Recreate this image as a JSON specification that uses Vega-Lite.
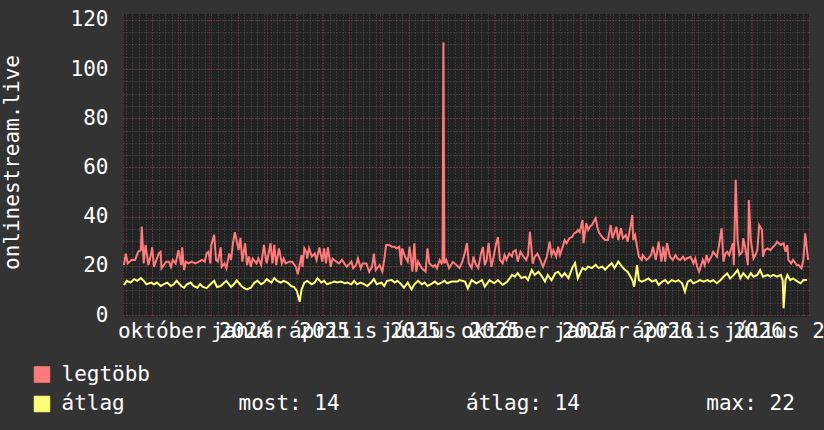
{
  "$schema": "https://vega.github.io/schema/vega-lite/v6.json",
  "width": 686,
  "height": 303,
  "autosize": {"type": "none"},
  "padding": {"left": 123, "top": 14, "right": 15, "bottom": 113},
  "background": "#333333",
  "config": {
    "view": {"fill": "#222222", "stroke": null},
    "font": "DejaVu Sans Mono",
    "axis": {"labelFont": "DejaVu Sans Mono", "titleFont": "DejaVu Sans Mono", "labelColor": "#ffffff", "titleColor": "#ffffff", "labelFontSize": 21, "titleFontSize": 21, "titleFontWeight": "normal", "tickSize": 0},
    "legend": {"orient": "none", "legendX": -91.5, "legendY": 350, "direction": "vertical", "symbolType": "square", "symbolSize": 240, "symbolStrokeColor": "#000000", "symbolStrokeWidth": 1, "labelFont": "DejaVu Sans Mono", "labelFontSize": 21, "labelColor": "#ffffff", "labelOffset": 9, "rowPadding": 7.5, "labelLimit": 1000, "padding": 0}
  },
  "data": {"values": [
{"date":"2024-08-02","series":"legtöbb","value":20.3},{"date":"2024-08-04","series":"legtöbb","value":25},{"date":"2024-08-06","series":"legtöbb","value":21},{"date":"2024-08-10","series":"legtöbb","value":22.4},{"date":"2024-08-14","series":"legtöbb","value":22.4},{"date":"2024-08-17","series":"legtöbb","value":25.7},{"date":"2024-08-20","series":"legtöbb","value":26.4},{"date":"2024-08-21","series":"legtöbb","value":36},{"date":"2024-08-23","series":"legtöbb","value":21},{"date":"2024-08-25","series":"legtöbb","value":28.5},{"date":"2024-08-28","series":"legtöbb","value":20.3},{"date":"2024-08-31","series":"legtöbb","value":25},
{"date":"2024-09-01","series":"legtöbb","value":27.5},{"date":"2024-09-03","series":"legtöbb","value":19.6},{"date":"2024-09-05","series":"legtöbb","value":21.7},{"date":"2024-09-08","series":"legtöbb","value":25},{"date":"2024-09-10","series":"legtöbb","value":25.7},{"date":"2024-09-11","series":"legtöbb","value":19},{"date":"2024-09-16","series":"legtöbb","value":21.7},{"date":"2024-09-19","series":"legtöbb","value":21.7},{"date":"2024-09-21","series":"legtöbb","value":19.6},{"date":"2024-09-23","series":"legtöbb","value":22.4},{"date":"2024-09-26","series":"legtöbb","value":21},{"date":"2024-09-29","series":"legtöbb","value":26.4},
{"date":"2024-10-02","series":"legtöbb","value":20.3},{"date":"2024-10-03","series":"legtöbb","value":27.5},{"date":"2024-10-05","series":"legtöbb","value":18.3},{"date":"2024-10-07","series":"legtöbb","value":21.7},{"date":"2024-10-10","series":"legtöbb","value":21},{"date":"2024-10-13","series":"legtöbb","value":21.7},{"date":"2024-10-17","series":"legtöbb","value":21},{"date":"2024-10-21","series":"legtöbb","value":21.7},{"date":"2024-10-24","series":"legtöbb","value":22.4},{"date":"2024-10-27","series":"legtöbb","value":21.7},{"date":"2024-10-29","series":"legtöbb","value":25},{"date":"2024-10-31","series":"legtöbb","value":25.7},
{"date":"2024-11-02","series":"legtöbb","value":21},{"date":"2024-11-03","series":"legtöbb","value":28.5},{"date":"2024-11-06","series":"legtöbb","value":32.6},{"date":"2024-11-08","series":"legtöbb","value":22.4},{"date":"2024-11-10","series":"legtöbb","value":21.7},{"date":"2024-11-13","series":"legtöbb","value":27.5},{"date":"2024-11-14","series":"legtöbb","value":19.6},{"date":"2024-11-17","series":"legtöbb","value":21},{"date":"2024-11-19","series":"legtöbb","value":19},{"date":"2024-11-22","series":"legtöbb","value":25},{"date":"2024-11-24","series":"legtöbb","value":22.4},{"date":"2024-11-26","series":"legtöbb","value":29.2},{"date":"2024-11-28","series":"legtöbb","value":33.7},{"date":"2024-11-29","series":"legtöbb","value":32},
{"date":"2024-12-02","series":"legtöbb","value":26.4},{"date":"2024-12-04","series":"legtöbb","value":31.4},{"date":"2024-12-06","series":"legtöbb","value":21.7},{"date":"2024-12-07","series":"legtöbb","value":24.4},{"date":"2024-12-09","series":"legtöbb","value":29.2},{"date":"2024-12-11","series":"legtöbb","value":20.3},{"date":"2024-12-13","series":"legtöbb","value":23.8},{"date":"2024-12-15","series":"legtöbb","value":19.6},{"date":"2024-12-17","series":"legtöbb","value":23},{"date":"2024-12-21","series":"legtöbb","value":21},{"date":"2024-12-23","series":"legtöbb","value":23},{"date":"2024-12-26","series":"legtöbb","value":20.3},{"date":"2024-12-29","series":"legtöbb","value":28.5},{"date":"2024-12-31","series":"legtöbb","value":23},
{"date":"2025-01-01","series":"legtöbb","value":21},{"date":"2025-01-05","series":"legtöbb","value":29.2},{"date":"2025-01-07","series":"legtöbb","value":21},{"date":"2025-01-09","series":"legtöbb","value":28.5},{"date":"2025-01-11","series":"legtöbb","value":20.3},{"date":"2025-01-14","series":"legtöbb","value":27.1},{"date":"2025-01-17","series":"legtöbb","value":21},{"date":"2025-01-19","series":"legtöbb","value":23},{"date":"2025-01-21","series":"legtöbb","value":21},{"date":"2025-01-25","series":"legtöbb","value":21.7},{"date":"2025-01-28","series":"legtöbb","value":21.7},
{"date":"2025-02-01","series":"legtöbb","value":19.6},{"date":"2025-02-03","series":"legtöbb","value":16.6},{"date":"2025-02-07","series":"legtöbb","value":24.4},{"date":"2025-02-08","series":"legtöbb","value":19.6},{"date":"2025-02-10","series":"legtöbb","value":27.1},{"date":"2025-02-12","series":"legtöbb","value":25.7},{"date":"2025-02-13","series":"legtöbb","value":23},{"date":"2025-02-15","series":"legtöbb","value":27.1},{"date":"2025-02-18","series":"legtöbb","value":23.8},{"date":"2025-02-21","series":"legtöbb","value":25},{"date":"2025-02-23","series":"legtöbb","value":22.4},{"date":"2025-02-26","series":"legtöbb","value":27.5},
{"date":"2025-03-01","series":"legtöbb","value":21.7},{"date":"2025-03-03","series":"legtöbb","value":27.1},{"date":"2025-03-05","series":"legtöbb","value":21},{"date":"2025-03-07","series":"legtöbb","value":27.5},{"date":"2025-03-10","series":"legtöbb","value":19.6},{"date":"2025-03-12","series":"legtöbb","value":23},{"date":"2025-03-16","series":"legtöbb","value":21.7},{"date":"2025-03-19","series":"legtöbb","value":21},{"date":"2025-03-22","series":"legtöbb","value":22.4},{"date":"2025-03-27","series":"legtöbb","value":19.6},{"date":"2025-03-29","series":"legtöbb","value":20.3},
{"date":"2025-04-01","series":"legtöbb","value":21.7},{"date":"2025-04-03","series":"legtöbb","value":19},{"date":"2025-04-06","series":"legtöbb","value":20.3},{"date":"2025-04-08","series":"legtöbb","value":23},{"date":"2025-04-11","series":"legtöbb","value":19},{"date":"2025-04-13","series":"legtöbb","value":21},{"date":"2025-04-17","series":"legtöbb","value":21},{"date":"2025-04-20","series":"legtöbb","value":17.6},{"date":"2025-04-23","series":"legtöbb","value":19.6},{"date":"2025-04-25","series":"legtöbb","value":25},{"date":"2025-04-27","series":"legtöbb","value":18.3},
{"date":"2025-05-01","series":"legtöbb","value":20.3},{"date":"2025-05-04","series":"legtöbb","value":17.6},{"date":"2025-05-06","series":"legtöbb","value":22.4},{"date":"2025-05-08","series":"legtöbb","value":28.5},{"date":"2025-05-11","series":"legtöbb","value":28.5},{"date":"2025-05-14","series":"legtöbb","value":27.8},{"date":"2025-05-17","series":"legtöbb","value":27.8},{"date":"2025-05-19","series":"legtöbb","value":27.1},{"date":"2025-05-22","series":"legtöbb","value":27.8},{"date":"2025-05-24","series":"legtöbb","value":20.3},{"date":"2025-05-25","series":"legtöbb","value":27.1},{"date":"2025-05-28","series":"legtöbb","value":23.8},{"date":"2025-05-31","series":"legtöbb","value":21.7},
{"date":"2025-06-02","series":"legtöbb","value":27.8},{"date":"2025-06-05","series":"legtöbb","value":17.6},{"date":"2025-06-07","series":"legtöbb","value":29.2},{"date":"2025-06-09","series":"legtöbb","value":17.6},{"date":"2025-06-11","series":"legtöbb","value":21.7},{"date":"2025-06-15","series":"legtöbb","value":19},{"date":"2025-06-17","series":"legtöbb","value":18.3},{"date":"2025-06-19","series":"legtöbb","value":17.6},{"date":"2025-06-21","series":"legtöbb","value":27.1},{"date":"2025-06-23","series":"legtöbb","value":21},{"date":"2025-06-27","series":"legtöbb","value":19.6},{"date":"2025-06-29","series":"legtöbb","value":20.3},
{"date":"2025-07-01","series":"legtöbb","value":19},{"date":"2025-07-04","series":"legtöbb","value":22.4},{"date":"2025-07-06","series":"legtöbb","value":21},{"date":"2025-07-07","series":"legtöbb","value":21.7},{"date":"2025-07-08","series":"legtöbb","value":110.8},{"date":"2025-07-09","series":"legtöbb","value":21},{"date":"2025-07-11","series":"legtöbb","value":22.4},{"date":"2025-07-14","series":"legtöbb","value":19.1},{"date":"2025-07-18","series":"legtöbb","value":21.6},{"date":"2025-07-22","series":"legtöbb","value":20.3},{"date":"2025-07-25","series":"legtöbb","value":19.1},{"date":"2025-07-28","series":"legtöbb","value":21.6},{"date":"2025-07-31","series":"legtöbb","value":25.6},
{"date":"2025-08-02","series":"legtöbb","value":29.3},{"date":"2025-08-04","series":"legtöbb","value":21},{"date":"2025-08-07","series":"legtöbb","value":19.1},{"date":"2025-08-09","series":"legtöbb","value":23.8},{"date":"2025-08-11","series":"legtöbb","value":21},{"date":"2025-08-14","series":"legtöbb","value":19.1},{"date":"2025-08-17","series":"legtöbb","value":25},{"date":"2025-08-19","series":"legtöbb","value":27.7},{"date":"2025-08-21","series":"legtöbb","value":20.3},{"date":"2025-08-23","series":"legtöbb","value":22.4},{"date":"2025-08-25","series":"legtöbb","value":29.3},{"date":"2025-08-28","series":"legtöbb","value":19.6},{"date":"2025-08-29","series":"legtöbb","value":21},
{"date":"2025-09-02","series":"legtöbb","value":29},{"date":"2025-09-04","series":"legtöbb","value":31.7},{"date":"2025-09-06","series":"legtöbb","value":22.4},{"date":"2025-09-09","series":"legtöbb","value":21},{"date":"2025-09-11","series":"legtöbb","value":24.4},{"date":"2025-09-13","series":"legtöbb","value":22.4},{"date":"2025-09-16","series":"legtöbb","value":25},{"date":"2025-09-19","series":"legtöbb","value":23.8},{"date":"2025-09-20","series":"legtöbb","value":25.7},{"date":"2025-09-23","series":"legtöbb","value":26.4},{"date":"2025-09-25","series":"legtöbb","value":21.7},{"date":"2025-09-28","series":"legtöbb","value":25.7},{"date":"2025-09-30","series":"legtöbb","value":24.4},
{"date":"2025-10-04","series":"legtöbb","value":22.4},{"date":"2025-10-06","series":"legtöbb","value":24.4},{"date":"2025-10-08","series":"legtöbb","value":33.8},{"date":"2025-10-10","series":"legtöbb","value":25.7},{"date":"2025-10-11","series":"legtöbb","value":20.9},{"date":"2025-10-13","series":"legtöbb","value":23.6},{"date":"2025-10-16","series":"legtöbb","value":25},{"date":"2025-10-19","series":"legtöbb","value":22.4},{"date":"2025-10-22","series":"legtöbb","value":19.6},{"date":"2025-10-24","series":"legtöbb","value":21.7},{"date":"2025-10-26","series":"legtöbb","value":23.7},{"date":"2025-10-29","series":"legtöbb","value":29.8},{"date":"2025-10-31","series":"legtöbb","value":24.4},
{"date":"2025-11-02","series":"legtöbb","value":26.4},{"date":"2025-11-05","series":"legtöbb","value":23.7},{"date":"2025-11-07","series":"legtöbb","value":27.8},{"date":"2025-11-09","series":"legtöbb","value":24.4},{"date":"2025-11-12","series":"legtöbb","value":27.8},{"date":"2025-11-14","series":"legtöbb","value":30.5},{"date":"2025-11-16","series":"legtöbb","value":29.2},{"date":"2025-11-19","series":"legtöbb","value":31.2},{"date":"2025-11-22","series":"legtöbb","value":31.8},{"date":"2025-11-24","series":"legtöbb","value":33.2},{"date":"2025-11-27","series":"legtöbb","value":33.8},{"date":"2025-11-28","series":"legtöbb","value":34.6},{"date":"2025-11-30","series":"legtöbb","value":33.8},
{"date":"2025-12-03","series":"legtöbb","value":38.6},{"date":"2025-12-04","series":"legtöbb","value":29.2},{"date":"2025-12-07","series":"legtöbb","value":37.3},{"date":"2025-12-09","series":"legtöbb","value":34.6},{"date":"2025-12-11","series":"legtöbb","value":36},{"date":"2025-12-13","series":"legtöbb","value":36.6},{"date":"2025-12-15","series":"legtöbb","value":38},{"date":"2025-12-17","series":"legtöbb","value":39.4},{"date":"2025-12-19","series":"legtöbb","value":35.3},{"date":"2025-12-21","series":"legtöbb","value":33.2},{"date":"2025-12-25","series":"legtöbb","value":31.2},{"date":"2025-12-27","series":"legtöbb","value":30.5},{"date":"2025-12-30","series":"legtöbb","value":30.5},
{"date":"2026-01-02","series":"legtöbb","value":36.6},{"date":"2026-01-04","series":"legtöbb","value":31.2},{"date":"2026-01-08","series":"legtöbb","value":35.9},{"date":"2026-01-10","series":"legtöbb","value":30.5},{"date":"2026-01-13","series":"legtöbb","value":35.3},{"date":"2026-01-15","series":"legtöbb","value":31.2},{"date":"2026-01-18","series":"legtöbb","value":32.5},{"date":"2026-01-20","series":"legtöbb","value":29.8},{"date":"2026-01-23","series":"legtöbb","value":35.9},{"date":"2026-01-25","series":"legtöbb","value":40.7},{"date":"2026-01-26","series":"legtöbb","value":30.5},{"date":"2026-01-28","series":"legtöbb","value":32.5},{"date":"2026-01-30","series":"legtöbb","value":27.8},
{"date":"2026-02-01","series":"legtöbb","value":23.7},{"date":"2026-02-04","series":"legtöbb","value":22.4},{"date":"2026-02-05","series":"legtöbb","value":24.4},{"date":"2026-02-09","series":"legtöbb","value":22.4},{"date":"2026-02-11","series":"legtöbb","value":23},{"date":"2026-02-14","series":"legtöbb","value":24.4},{"date":"2026-02-16","series":"legtöbb","value":27.8},{"date":"2026-02-19","series":"legtöbb","value":22.4},{"date":"2026-02-22","series":"legtöbb","value":29.8},{"date":"2026-02-25","series":"legtöbb","value":21.7},{"date":"2026-02-27","series":"legtöbb","value":27.8},
{"date":"2026-03-01","series":"legtöbb","value":21.7},{"date":"2026-03-03","series":"legtöbb","value":29.2},{"date":"2026-03-06","series":"legtöbb","value":23.7},{"date":"2026-03-09","series":"legtöbb","value":22.4},{"date":"2026-03-12","series":"legtöbb","value":24.4},{"date":"2026-03-14","series":"legtöbb","value":23},{"date":"2026-03-17","series":"legtöbb","value":22.4},{"date":"2026-03-20","series":"legtöbb","value":23.7},{"date":"2026-03-22","series":"legtöbb","value":22.4},{"date":"2026-03-24","series":"legtöbb","value":23},{"date":"2026-03-28","series":"legtöbb","value":23.7},{"date":"2026-03-31","series":"legtöbb","value":21},
{"date":"2026-04-02","series":"legtöbb","value":23},{"date":"2026-04-04","series":"legtöbb","value":19.6},{"date":"2026-04-06","series":"legtöbb","value":17.6},{"date":"2026-04-10","series":"legtöbb","value":22.4},{"date":"2026-04-12","series":"legtöbb","value":20.3},{"date":"2026-04-14","series":"legtöbb","value":24.4},{"date":"2026-04-16","series":"legtöbb","value":21.7},{"date":"2026-04-19","series":"legtöbb","value":23.7},{"date":"2026-04-21","series":"legtöbb","value":25.7},{"date":"2026-04-25","series":"legtöbb","value":23.7},{"date":"2026-04-27","series":"legtöbb","value":27.8},{"date":"2026-04-30","series":"legtöbb","value":35.3},
{"date":"2026-05-02","series":"legtöbb","value":21.7},{"date":"2026-05-04","series":"legtöbb","value":25},{"date":"2026-05-06","series":"legtöbb","value":25.7},{"date":"2026-05-08","series":"legtöbb","value":24.4},{"date":"2026-05-12","series":"legtöbb","value":29.2},{"date":"2026-05-13","series":"legtöbb","value":20.3},{"date":"2026-05-15","series":"legtöbb","value":55},{"date":"2026-05-17","series":"legtöbb","value":30.5},{"date":"2026-05-19","series":"legtöbb","value":24.4},{"date":"2026-05-22","series":"legtöbb","value":25.7},{"date":"2026-05-23","series":"legtöbb","value":31.2},{"date":"2026-05-25","series":"legtöbb","value":27.8},{"date":"2026-05-28","series":"legtöbb","value":20.3},{"date":"2026-05-29","series":"legtöbb","value":46.8},{"date":"2026-05-31","series":"legtöbb","value":30.5},
{"date":"2026-06-03","series":"legtöbb","value":23},{"date":"2026-06-05","series":"legtöbb","value":24.4},{"date":"2026-06-07","series":"legtöbb","value":26.4},{"date":"2026-06-09","series":"legtöbb","value":36.6},{"date":"2026-06-12","series":"legtöbb","value":34.6},{"date":"2026-06-13","series":"legtöbb","value":23.7},{"date":"2026-06-15","series":"legtöbb","value":26.4},{"date":"2026-06-18","series":"legtöbb","value":27.1},{"date":"2026-06-21","series":"legtöbb","value":26.4},{"date":"2026-06-24","series":"legtöbb","value":27.8},{"date":"2026-06-26","series":"legtöbb","value":28.5},{"date":"2026-06-28","series":"legtöbb","value":29.8},
{"date":"2026-07-02","series":"legtöbb","value":28.5},{"date":"2026-07-05","series":"legtöbb","value":29.2},{"date":"2026-07-07","series":"legtöbb","value":25.7},{"date":"2026-07-09","series":"legtöbb","value":28.5},{"date":"2026-07-10","series":"legtöbb","value":22.4},{"date":"2026-07-13","series":"legtöbb","value":21},{"date":"2026-07-15","series":"legtöbb","value":22.4},{"date":"2026-07-19","series":"legtöbb","value":20.3},{"date":"2026-07-21","series":"legtöbb","value":20.3},{"date":"2026-07-24","series":"legtöbb","value":19},{"date":"2026-07-26","series":"legtöbb","value":22.4},{"date":"2026-07-28","series":"legtöbb","value":33.2},{"date":"2026-07-31","series":"legtöbb","value":22.4},
{"date":"2024-08-02","series":"átlag","value":12.2},{"date":"2024-08-05","series":"átlag","value":13.9},{"date":"2024-08-09","series":"átlag","value":13.2},{"date":"2024-08-13","series":"átlag","value":14.6},{"date":"2024-08-16","series":"átlag","value":13.9},{"date":"2024-08-20","series":"átlag","value":15},{"date":"2024-08-23","series":"átlag","value":13.9},{"date":"2024-08-26","series":"átlag","value":12.5},{"date":"2024-08-31","series":"átlag","value":13.2},
{"date":"2024-09-03","series":"átlag","value":12.5},{"date":"2024-09-06","series":"átlag","value":13.2},{"date":"2024-09-10","series":"átlag","value":11.8},{"date":"2024-09-13","series":"átlag","value":12.5},{"date":"2024-09-17","series":"átlag","value":13.2},{"date":"2024-09-21","series":"átlag","value":11.8},{"date":"2024-09-24","series":"átlag","value":12.5},{"date":"2024-09-27","series":"átlag","value":13.9},
{"date":"2024-10-02","series":"átlag","value":11.8},{"date":"2024-10-05","series":"átlag","value":11.1},{"date":"2024-10-08","series":"átlag","value":12.5},{"date":"2024-10-12","series":"átlag","value":13.2},{"date":"2024-10-15","series":"átlag","value":11.8},{"date":"2024-10-19","series":"átlag","value":11.1},{"date":"2024-10-22","series":"átlag","value":12.5},{"date":"2024-10-25","series":"átlag","value":11.4},{"date":"2024-10-29","series":"átlag","value":10.9},
{"date":"2024-11-02","series":"átlag","value":12.5},{"date":"2024-11-06","series":"átlag","value":13.9},{"date":"2024-11-09","series":"átlag","value":11.4},{"date":"2024-11-13","series":"átlag","value":11.8},{"date":"2024-11-16","series":"átlag","value":12.9},{"date":"2024-11-19","series":"átlag","value":13.9},{"date":"2024-11-24","series":"átlag","value":11.4},{"date":"2024-11-27","series":"átlag","value":12.5},{"date":"2024-11-30","series":"átlag","value":14.1},
{"date":"2024-12-05","series":"átlag","value":11.8},{"date":"2024-12-08","series":"átlag","value":10.9},{"date":"2024-12-11","series":"átlag","value":10.4},{"date":"2024-12-15","series":"átlag","value":11.1},{"date":"2024-12-19","series":"átlag","value":13.2},{"date":"2024-12-22","series":"átlag","value":13.9},{"date":"2024-12-26","series":"átlag","value":12.5},{"date":"2024-12-29","series":"átlag","value":13.2},
{"date":"2025-01-01","series":"átlag","value":14.6},{"date":"2025-01-06","series":"átlag","value":13.2},{"date":"2025-01-09","series":"átlag","value":15},{"date":"2025-01-12","series":"átlag","value":13.9},{"date":"2025-01-16","series":"átlag","value":13.2},{"date":"2025-01-19","series":"átlag","value":13.9},{"date":"2025-01-23","series":"átlag","value":13.2},{"date":"2025-01-27","series":"átlag","value":11.8},{"date":"2025-01-30","series":"átlag","value":11.4},
{"date":"2025-02-02","series":"átlag","value":9.8},{"date":"2025-02-05","series":"átlag","value":5.4},{"date":"2025-02-07","series":"átlag","value":10.4},{"date":"2025-02-10","series":"átlag","value":13.2},{"date":"2025-02-13","series":"átlag","value":13.9},{"date":"2025-02-18","series":"átlag","value":12.5},{"date":"2025-02-21","series":"átlag","value":13.2},{"date":"2025-02-24","series":"átlag","value":15},{"date":"2025-02-28","series":"átlag","value":13.2},
{"date":"2025-03-03","series":"átlag","value":13.9},{"date":"2025-03-06","series":"átlag","value":12.5},{"date":"2025-03-11","series":"átlag","value":13.2},{"date":"2025-03-14","series":"átlag","value":13.6},{"date":"2025-03-17","series":"átlag","value":13.2},{"date":"2025-03-21","series":"átlag","value":13.6},{"date":"2025-03-25","series":"átlag","value":12.9},{"date":"2025-03-28","series":"átlag","value":13.2},
{"date":"2025-04-01","series":"átlag","value":12.5},{"date":"2025-04-04","series":"átlag","value":13.9},{"date":"2025-04-07","series":"átlag","value":12.5},{"date":"2025-04-11","series":"átlag","value":13.2},{"date":"2025-04-15","series":"átlag","value":12.5},{"date":"2025-04-18","series":"átlag","value":11.8},{"date":"2025-04-22","series":"átlag","value":13.2},{"date":"2025-04-25","series":"átlag","value":14.6},{"date":"2025-04-28","series":"átlag","value":12.5},
{"date":"2025-05-03","series":"átlag","value":13.2},{"date":"2025-05-06","series":"átlag","value":11.8},{"date":"2025-05-09","series":"átlag","value":13.9},{"date":"2025-05-14","series":"átlag","value":14.2},{"date":"2025-05-17","series":"átlag","value":13.2},{"date":"2025-05-20","series":"átlag","value":13.9},{"date":"2025-05-24","series":"átlag","value":12.5},{"date":"2025-05-27","series":"átlag","value":11.1},{"date":"2025-05-31","series":"átlag","value":13.2},
{"date":"2025-06-04","series":"átlag","value":10.4},{"date":"2025-06-07","series":"átlag","value":12.5},{"date":"2025-06-11","series":"átlag","value":13.9},{"date":"2025-06-15","series":"átlag","value":12.5},{"date":"2025-06-18","series":"átlag","value":13.2},{"date":"2025-06-21","series":"átlag","value":11.8},{"date":"2025-06-26","series":"átlag","value":12.9},{"date":"2025-06-29","series":"átlag","value":13.6},
{"date":"2025-07-02","series":"átlag","value":12.5},{"date":"2025-07-06","series":"átlag","value":13.2},{"date":"2025-07-09","series":"átlag","value":13.9},{"date":"2025-07-12","series":"átlag","value":12.9},{"date":"2025-07-17","series":"átlag","value":13.6},{"date":"2025-07-23","series":"átlag","value":13.6},{"date":"2025-07-25","series":"átlag","value":14.2},{"date":"2025-07-31","series":"átlag","value":13.6},
{"date":"2025-08-03","series":"átlag","value":10.8},{"date":"2025-08-07","series":"átlag","value":14.2},{"date":"2025-08-12","series":"átlag","value":12.9},{"date":"2025-08-18","series":"átlag","value":14.2},{"date":"2025-08-21","series":"átlag","value":11.5},{"date":"2025-08-26","series":"átlag","value":14.2},{"date":"2025-08-31","series":"átlag","value":12.9},
{"date":"2025-09-04","series":"átlag","value":14.2},{"date":"2025-09-09","series":"átlag","value":12.2},{"date":"2025-09-14","series":"átlag","value":13.6},{"date":"2025-09-19","series":"átlag","value":16.3},{"date":"2025-09-22","series":"átlag","value":15.6},{"date":"2025-09-25","series":"átlag","value":17},{"date":"2025-09-29","series":"átlag","value":15},
{"date":"2025-10-03","series":"átlag","value":15.6},{"date":"2025-10-06","series":"átlag","value":14.2},{"date":"2025-10-10","series":"átlag","value":18.3},{"date":"2025-10-13","series":"átlag","value":16.3},{"date":"2025-10-17","series":"átlag","value":17.6},{"date":"2025-10-21","series":"átlag","value":15.6},{"date":"2025-10-24","series":"átlag","value":13.6},{"date":"2025-10-27","series":"átlag","value":16.3},{"date":"2025-10-31","series":"átlag","value":14.2},
{"date":"2025-11-04","series":"átlag","value":17},{"date":"2025-11-07","series":"átlag","value":17.6},{"date":"2025-11-11","series":"átlag","value":15.6},{"date":"2025-11-14","series":"átlag","value":17},{"date":"2025-11-18","series":"átlag","value":15},{"date":"2025-11-22","series":"átlag","value":19.1},{"date":"2025-11-25","series":"átlag","value":21.1},{"date":"2025-11-28","series":"átlag","value":15},
{"date":"2025-12-03","series":"átlag","value":19.1},{"date":"2025-12-06","series":"átlag","value":18.4},{"date":"2025-12-09","series":"átlag","value":19.7},{"date":"2025-12-13","series":"átlag","value":19.1},{"date":"2025-12-17","series":"átlag","value":20.4},{"date":"2025-12-20","series":"átlag","value":19.1},{"date":"2025-12-24","series":"átlag","value":19.7},{"date":"2025-12-27","series":"átlag","value":18.4},{"date":"2025-12-30","series":"átlag","value":19.7},
{"date":"2026-01-03","series":"átlag","value":21.1},{"date":"2026-01-06","series":"átlag","value":19.1},{"date":"2026-01-10","series":"átlag","value":21.7},{"date":"2026-01-14","series":"átlag","value":19.7},{"date":"2026-01-17","series":"átlag","value":18.4},{"date":"2026-01-20","series":"átlag","value":17.6},{"date":"2026-01-25","series":"átlag","value":14.2},{"date":"2026-01-27","series":"átlag","value":11.5},{"date":"2026-01-30","series":"átlag","value":20.3},
{"date":"2026-02-01","series":"átlag","value":14.2},{"date":"2026-02-04","series":"átlag","value":13.6},{"date":"2026-02-08","series":"átlag","value":14.2},{"date":"2026-02-11","series":"átlag","value":14.9},{"date":"2026-02-15","series":"átlag","value":13.6},{"date":"2026-02-19","series":"átlag","value":14.2},{"date":"2026-02-22","series":"átlag","value":12.2},{"date":"2026-02-26","series":"átlag","value":13.6},
{"date":"2026-03-01","series":"átlag","value":14.2},{"date":"2026-03-04","series":"átlag","value":12.9},{"date":"2026-03-08","series":"átlag","value":14.2},{"date":"2026-03-12","series":"átlag","value":13.6},{"date":"2026-03-15","series":"átlag","value":14.2},{"date":"2026-03-19","series":"átlag","value":12.9},{"date":"2026-03-22","series":"átlag","value":9.5},{"date":"2026-03-25","series":"átlag","value":13.6},{"date":"2026-03-28","series":"átlag","value":14.2},{"date":"2026-03-31","series":"átlag","value":12.9},
{"date":"2026-04-04","series":"átlag","value":13.6},{"date":"2026-04-07","series":"átlag","value":14.2},{"date":"2026-04-11","series":"átlag","value":13.6},{"date":"2026-04-15","series":"átlag","value":14.2},{"date":"2026-04-18","series":"átlag","value":13.6},{"date":"2026-04-21","series":"átlag","value":14.2},{"date":"2026-04-25","series":"átlag","value":12.9},{"date":"2026-04-29","series":"átlag","value":14.2},
{"date":"2026-05-02","series":"átlag","value":15.6},{"date":"2026-05-06","series":"átlag","value":16.9},{"date":"2026-05-09","series":"átlag","value":14.9},{"date":"2026-05-13","series":"átlag","value":16.3},{"date":"2026-05-17","series":"átlag","value":18.3},{"date":"2026-05-20","series":"átlag","value":14.9},{"date":"2026-05-23","series":"átlag","value":17},{"date":"2026-05-28","series":"átlag","value":14.9},{"date":"2026-05-31","series":"átlag","value":17},
{"date":"2026-06-03","series":"átlag","value":15.6},{"date":"2026-06-07","series":"átlag","value":16.3},{"date":"2026-06-10","series":"átlag","value":18.3},{"date":"2026-06-13","series":"átlag","value":15.6},{"date":"2026-06-18","series":"átlag","value":16.3},{"date":"2026-06-21","series":"átlag","value":15.6},{"date":"2026-06-24","series":"átlag","value":16.3},{"date":"2026-06-28","series":"átlag","value":15.6},
{"date":"2026-07-02","series":"átlag","value":16.3},{"date":"2026-07-04","series":"átlag","value":14.2},{"date":"2026-07-05","series":"átlag","value":2.8},{"date":"2026-07-07","series":"átlag","value":14.2},{"date":"2026-07-09","series":"átlag","value":16.3},{"date":"2026-07-12","series":"átlag","value":14.2},{"date":"2026-07-15","series":"átlag","value":14.9},{"date":"2026-07-20","series":"átlag","value":13.6},{"date":"2026-07-23","series":"átlag","value":12.9},{"date":"2026-07-26","series":"átlag","value":14.2},{"date":"2026-07-30","series":"átlag","value":14.2}
  ]},
  "layer": [
    {
      "transform": [{"filter": "datum.series == 'legtöbb'"}],
      "mark": {"type": "line", "strokeWidth": 2},
      "encoding": {
        "x": {"field": "date", "type": "temporal",
          "scale": {"type": "utc", "domain": [{"year": 2024, "month": 8, "date": 1, "utc": true}, {"year": 2026, "month": 8, "date": 1, "utc": true}]},
          "axis": {"orient": "bottom", "grid": true, "gridColor": "#555555", "gridDash": [1, 2], "gridWidth": 1, "labels": false, "ticks": false, "domain": false, "title": null, "tickCount": {"interval": "week", "step": 1}}},
        "y": {"field": "value", "type": "quantitative",
          "scale": {"domain": [-0.8, 122.4], "nice": false, "zero": false},
          "axis": {"orient": "left", "values": [0, 5, 10, 15, 20, 25, 30, 35, 40, 45, 50, 55, 60, 65, 70, 75, 80, 85, 90, 95, 100, 105, 110, 115, 120], "grid": true, "gridColor": "#555555", "gridDash": [1, 2], "labels": false, "ticks": false, "domain": false, "title": null}},
        "color": {"field": "series", "type": "nominal",
          "scale": {"domain": ["legtöbb", "átlag"], "range": ["#ff7b7b", "#ffff7a"]},
          "legend": {"title": null, "labelExpr": "datum.label == 'átlag' ? 'átlag\u00a0\u00a0\u00a0\u00a0\u00a0\u00a0\u00a0\u00a0\u00a0most: 14\u00a0\u00a0\u00a0\u00a0\u00a0\u00a0\u00a0\u00a0\u00a0\u00a0átlag: 14\u00a0\u00a0\u00a0\u00a0\u00a0\u00a0\u00a0\u00a0\u00a0\u00a0max: 22' : datum.label",
            "encode": {"symbols": {"update": {"fill": {"scale": "color", "field": "value"}, "fillOpacity": {"value": 1}, "stroke": {"value": "#000000"}, "strokeWidth": {"value": 1}}}}}}
      }
    },
    {
      "transform": [{"filter": "datum.series == 'átlag'"}],
      "mark": {"type": "line", "strokeWidth": 2},
      "encoding": {
        "x": {"field": "date", "type": "temporal",
          "scale": {"type": "utc", "domain": [{"year": 2024, "month": 8, "date": 1, "utc": true}, {"year": 2026, "month": 8, "date": 1, "utc": true}]},
          "axis": {"orient": "bottom", "grid": true, "gridColor": "#8a3434", "gridDash": [1, 2], "gridWidth": 1, "ticks": false, "domain": false, "title": null, "tickCount": {"interval": "month", "step": 1},
            "labelExpr": "utcmonth(datum.value) % 3 == 0 ? ['január','február','március','április','május','június','július','augusztus','szeptember','október','november','december'][utcmonth(datum.value)] + ' ' + utcyear(datum.value) : ''",
            "labelOffset": 13, "labelPadding": 20, "labelBaseline": "alphabetic", "labelAlign": "center", "labelOverlap": false, "labelFlush": false, "labelBound": false}},
        "y": {"field": "value", "type": "quantitative",
          "scale": {"domain": [-0.8, 122.4], "nice": false, "zero": false},
          "axis": {"orient": "left", "values": [0, 20, 40, 60, 80, 100, 120], "grid": true, "gridColor": "#8a3434", "gridDash": [1, 2], "ticks": false, "domain": false, "labelPadding": 15,
            "title": "onlinestream.live", "titleX": -111, "titleY": 148, "titleAngle": 270, "titleAlign": "center", "titleBaseline": "middle"}},
        "color": {"field": "series", "type": "nominal",
          "scale": {"domain": ["legtöbb", "átlag"], "range": ["#ff7b7b", "#ffff7a"]},
          "legend": {"title": null, "labelExpr": "datum.label == 'átlag' ? 'átlag\u00a0\u00a0\u00a0\u00a0\u00a0\u00a0\u00a0\u00a0\u00a0most: 14\u00a0\u00a0\u00a0\u00a0\u00a0\u00a0\u00a0\u00a0\u00a0\u00a0átlag: 14\u00a0\u00a0\u00a0\u00a0\u00a0\u00a0\u00a0\u00a0\u00a0\u00a0max: 22' : datum.label",
            "encode": {"symbols": {"update": {"fill": {"scale": "color", "field": "value"}, "fillOpacity": {"value": 1}, "stroke": {"value": "#000000"}, "strokeWidth": {"value": 1}}}}}}
      }
    }
  ],
  "resolve": {"axis": {"x": "independent", "y": "independent"}}
}
